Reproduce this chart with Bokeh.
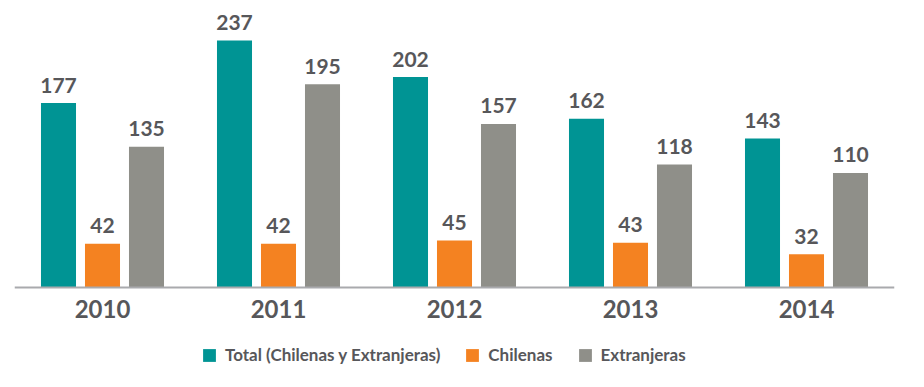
from bokeh.plotting import figure
from bokeh.models import ColumnDataSource, FactorRange, Range1d, Legend, LegendItem, Span
from bokeh.transform import dodge
from bokeh.core.properties import value
from bokeh.embed import file_html
from bokeh.resources import INLINE

years = ["2010", "2011", "2012", "2013", "2014"]
total = [177, 237, 202, 162, 143]
chilenas = [42, 42, 45, 43, 32]
extranjeras = [135, 195, 157, 118, 110]
series_names = ["Total (Chilenas y Extranjeras)", "Chilenas", "Extranjeras"]

TEAL = "#009494"
ORANGE = "#f48221"
GRAY = "#8f8f89"
TEXT = "#57575a"
FONT = "Lato"

src = ColumnDataSource(dict(
    years=years, total=total, chilenas=chilenas, extranjeras=extranjeras,
    total_s=[str(v) for v in total],
    chilenas_s=[str(v) for v in chilenas],
    extranjeras_s=[str(v) for v in extranjeras],
))

p = figure(x_range=FactorRange(*years, range_padding=0), y_range=Range1d(-88.3, 267.8),
           frame_width=880, frame_height=371, output_backend="svg",
           toolbar_location=None, min_border_left=14, min_border_right=16,
           min_border_top=8, min_border_bottom=0)

p.outline_line_color = None
p.background_fill_color = None
p.border_fill_color = None
p.grid.visible = False
p.xaxis.visible = False
p.yaxis.visible = False

cols = [("total", TEAL, -0.25), ("chilenas", ORANGE, 0.0), ("extranjeras", GRAY, 0.25)]
renderers = []
for col, color, off in cols:
    r = p.vbar(x=dodge("years", off, range=p.x_range), top=col, bottom=0, width=0.199,
               source=src, fill_color=color, line_color=None)
    renderers.append(r)
    p.text(x=dodge("years", off, range=p.x_range), y=col, text=col + "_s", source=src,
           text_align="center", text_baseline="alphabetic", y_offset=-18,
           text_font=value(FONT), text_font_style="bold", text_font_size="21px",
           text_color=TEXT)

p.add_layout(Span(location=0, dimension="width", line_color="#a9aaad", line_width=2))

p.text(x="years", y=0, text="years", source=src, text_align="center",
       text_baseline="alphabetic", y_offset=21, text_font=value(FONT),
       text_font_style="bold", text_font_size="24px", text_color=TEXT)

legend = Legend(items=[LegendItem(label=n, renderers=[r]) for n, r in zip(series_names, renderers)],
                orientation="horizontal", location=(187, 14),
                label_text_font=FONT, label_text_font_size="17px", label_text_font_style="bold",
                label_text_color=TEXT, glyph_width=16, glyph_height=16, label_standoff=8,
                spacing=24, padding=0, margin=0, border_line_color=None,
                background_fill_alpha=0)
p.add_layout(legend, "center")

open("out.html", "w").write(file_html(p, INLINE))
